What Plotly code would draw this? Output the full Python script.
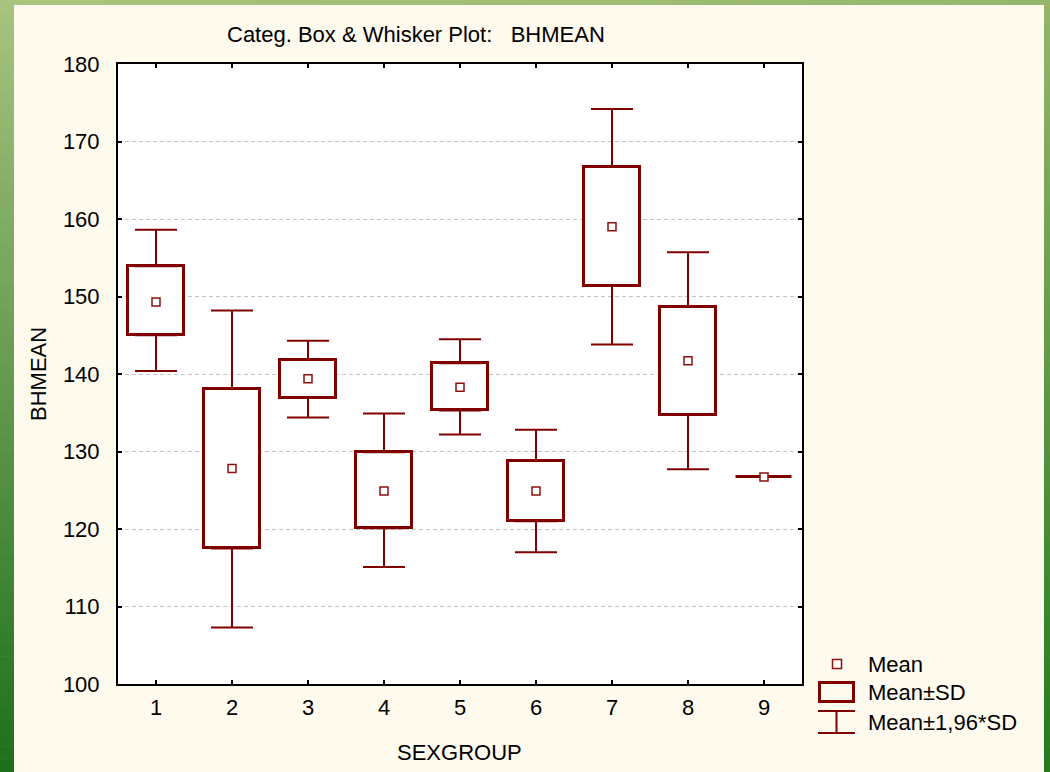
import plotly.graph_objects as go

# ---------------- data ----------------
groups = [1, 2, 3, 4, 5, 6, 7, 8, 9]
means = [149.3, 127.8, 139.4, 124.9, 138.3, 124.9, 159.0, 141.7, 126.7]
box_low = [145.0, 117.5, 136.9, 120.1, 135.3, 121.0, 151.4, 134.7, 126.7]
box_high = [153.9, 138.1, 141.8, 129.9, 141.4, 128.8, 166.7, 148.7, 126.7]
whisk_low = [140.4, 107.3, 134.4, 115.1, 132.2, 117.0, 143.8, 127.7, 126.7]
whisk_high = [158.6, 148.2, 144.3, 134.9, 144.5, 132.8, 174.2, 155.7, 126.7]
y_ticks = [100, 110, 120, 130, 140, 150, 160, 170, 180]

title_text = "Categ. Box & Whisker Plot:   BHMEAN"
x_title = "SEXGROUP"
y_title = "BHMEAN"
legend_labels = ["Mean", "Mean\u00b1SD", "Mean\u00b11,96*SD"]

# ---------------- style ----------------
W, H = 1050, 772
L, R, T, B = 118, 802, 64, 684
DARK_RED = "#800000"
FONT = "Liberation Sans, Arial, sans-serif"
FS = 22
PAPER = "#fffaee"


def px2x(px):
    return (px - L) / (R - L)


def py2y(py):
    return (B - py) / (B - T)


fig = go.Figure()

# boxes (Mean +/- SD)
fig.add_trace(go.Bar(
    x=groups,
    y=[h - l for h, l in zip(box_high, box_low)],
    base=box_low,
    width=0.74,
    marker=dict(color="white", line=dict(color=DARK_RED, width=3)),
    hoverinfo="skip",
    showlegend=False,
))

# upper whiskers
fig.add_trace(go.Scatter(
    x=groups, y=box_high, mode="markers",
    marker=dict(size=1, color="rgba(0,0,0,0)"),
    error_y=dict(type="data", symmetric=False,
                 array=[w - h for w, h in zip(whisk_high, box_high)],
                 arrayminus=[0] * len(groups),
                 color=DARK_RED, thickness=2, width=21),
    hoverinfo="skip", showlegend=False,
))
# lower whiskers
fig.add_trace(go.Scatter(
    x=groups, y=box_low, mode="markers",
    marker=dict(size=1, color="rgba(0,0,0,0)"),
    error_y=dict(type="data", symmetric=False,
                 array=[0] * len(groups),
                 arrayminus=[l - w for l, w in zip(box_low, whisk_low)],
                 color=DARK_RED, thickness=2, width=21),
    hoverinfo="skip", showlegend=False,
))
# means
fig.add_trace(go.Scatter(
    x=groups, y=means, mode="markers",
    marker=dict(symbol="square", size=8, color="white",
                line=dict(color="#8b1010", width=1.5)),
    showlegend=False,
))

shapes = []


def lerp(c1, c2, t):
    return "rgb(%d,%d,%d)" % tuple(round(a + (b - a) * t) for a, b in zip(c1, c2))


# green frame (gradient strips)
n = 60
top_c, bot_c = (168, 196, 127), (30, 111, 28)
rtop_c, rbot_c = (150, 182, 108), (38, 120, 30)
for i in range(n):
    y0 = i * H / n
    y1 = (i + 1) * H / n + 0.6
    t = (i + 0.5) / n
    shapes.append(dict(type="rect", xref="paper", yref="paper",
                       x0=px2x(-2), x1=px2x(14), y0=py2y(y1), y1=py2y(y0),
                       fillcolor=lerp(top_c, bot_c, t), line=dict(width=0), layer="below"))
    shapes.append(dict(type="rect", xref="paper", yref="paper",
                       x0=px2x(1044), x1=px2x(1052), y0=py2y(y1), y1=py2y(y0),
                       fillcolor=lerp(rtop_c, rbot_c, t), line=dict(width=0), layer="below"))
for i in range(n):
    x0 = 14 + i * (1044 - 14) / n
    x1 = 14 + (i + 1) * (1044 - 14) / n + 0.6
    t = (i + 0.5) / n
    shapes.append(dict(type="rect", xref="paper", yref="paper",
                       x0=px2x(x0), x1=px2x(x1), y0=py2y(5), y1=py2y(-2),
                       fillcolor=lerp((169, 197, 128), (150, 182, 108), t),
                       line=dict(width=0), layer="below"))

# custom legend keys
shapes.append(dict(type="rect", xref="paper", yref="paper",
                   x0=px2x(832.5), x1=px2x(841.5), y0=py2y(668.5), y1=py2y(659.5),
                   fillcolor="white", line=dict(color="#8b1010", width=1.5)))
shapes.append(dict(type="rect", xref="paper", yref="paper",
                   x0=px2x(819.5), x1=px2x(853.5), y0=py2y(701.5), y1=py2y(682.5),
                   fillcolor="rgba(0,0,0,0)", line=dict(color=DARK_RED, width=3)))
for yy in (711, 733):
    shapes.append(dict(type="line", xref="paper", yref="paper",
                       x0=px2x(818), x1=px2x(855), y0=py2y(yy), y1=py2y(yy),
                       line=dict(color=DARK_RED, width=2)))
shapes.append(dict(type="line", xref="paper", yref="paper",
                   x0=px2x(836.5), x1=px2x(836.5), y0=py2y(711), y1=py2y(733),
                   line=dict(color=DARK_RED, width=2)))

annotations = []
for lab, yy in zip(legend_labels, (664, 693, 722)):
    annotations.append(dict(text=lab, xref="paper", yref="paper",
                            x=px2x(866), y=py2y(yy), xanchor="left", yanchor="middle",
                            showarrow=False, font=dict(family=FONT, size=FS, color="black")))
annotations.append(dict(text=title_text, xref="paper", yref="paper",
                        x=px2x(416), y=py2y(35), xanchor="center", yanchor="middle",
                        showarrow=False, font=dict(family=FONT, size=FS, color="black")))
annotations.append(dict(text=x_title, xref="paper", yref="paper",
                        x=px2x(459), y=py2y(752), xanchor="center", yanchor="middle",
                        showarrow=False, font=dict(family=FONT, size=FS, color="black")))
annotations.append(dict(text=y_title, xref="paper", yref="paper",
                        x=px2x(38), y=py2y(374), xanchor="center", yanchor="middle",
                        textangle=-90,
                        showarrow=False, font=dict(family=FONT, size=FS, color="black")))

fig.update_layout(
    width=W, height=H,
    margin=dict(l=L, r=W - R, t=T, b=H - B, pad=0),
    paper_bgcolor=PAPER,
    plot_bgcolor="white",
    font=dict(family=FONT, size=FS, color="black"),
    showlegend=False,
    shapes=shapes,
    annotations=annotations,
    bargap=0,
)
fig.update_xaxes(
    range=[0.5, 9.5], tickmode="array", tickvals=groups, ticktext=[str(g) for g in groups],
    showgrid=False, zeroline=False,
    showline=True, linecolor="black", linewidth=2, mirror="ticks",
    ticks="inside", ticklen=4, tickwidth=2, tickcolor="black",
    tickfont=dict(family=FONT, size=FS, color="black"),
    ticklabelstandoff=3,
)
fig.update_yaxes(
    range=[100, 180], tickmode="array", tickvals=y_ticks,
    showgrid=True, gridcolor="#c4c4c4", gridwidth=1, griddash="4px,3px",
    zeroline=False,
    showline=True, linecolor="black", linewidth=2, mirror="ticks",
    ticks="inside", ticklen=4, tickwidth=2, tickcolor="black",
    tickfont=dict(family=FONT, size=FS, color="black"),
    ticklabelstandoff=12,
)

fig.write_html(
    "out.html",
    config={"displayModeBar": False},
    post_script="document.body.style.margin='0';document.body.style.overflow='hidden';",
)
